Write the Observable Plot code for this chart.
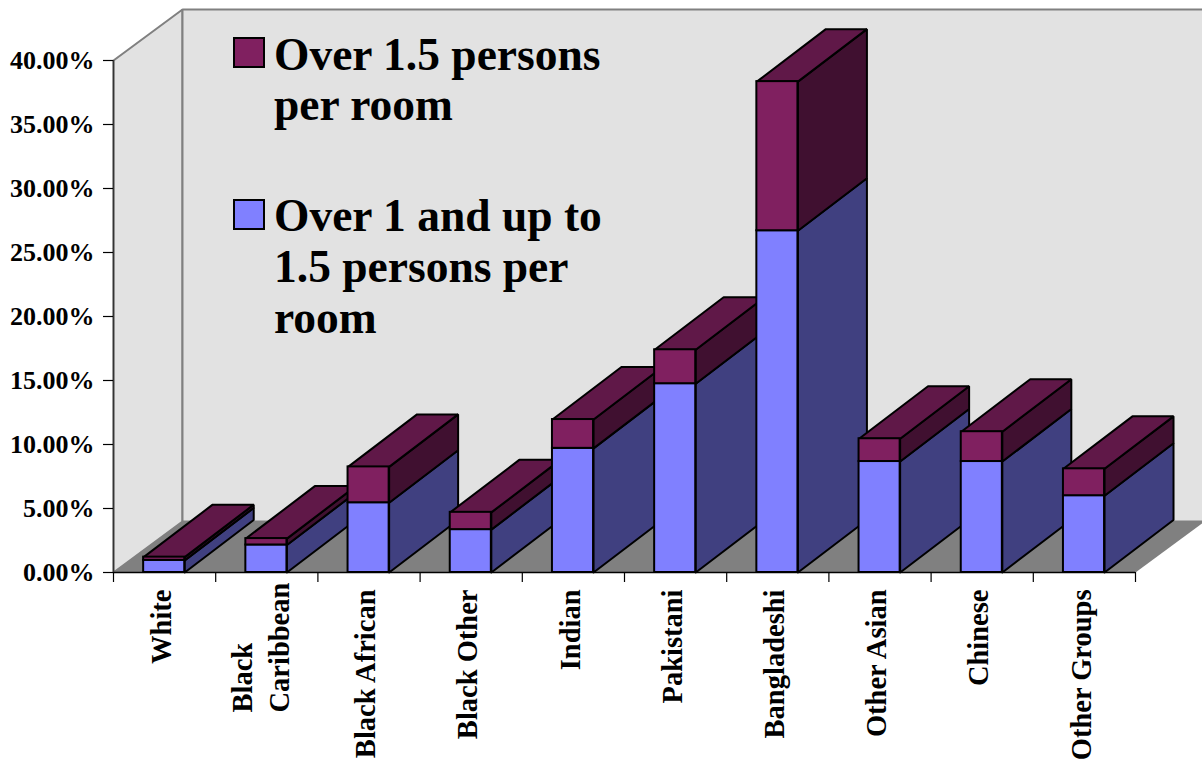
<!DOCTYPE html>
<html><head><meta charset="utf-8">
<script src="https://cdn.jsdelivr.net/npm/d3@7"></script>
<script src="https://cdn.jsdelivr.net/npm/@observablehq/plot@0.6"></script>
<style>
html,body{margin:0;padding:0;background:#fff;}
#wrap{position:relative;width:1202px;height:760px;overflow:hidden;}
#wrap svg{display:block;}
.lg{position:absolute;left:274px;font:bold 45.5px/1 "Liberation Serif",serif;color:#000;white-space:nowrap;}
.sw{position:absolute;left:233px;width:28px;height:27px;border:2px solid #000;}
</style></head><body><div id="wrap"></div>
<script>
const categories = ["White","Black\nCaribbean","Black African","Black Other","Indian","Pakistani","Bangladeshi","Other Asian","Chinese","Other Groups"];
const over1to15 = [0.95,2.15,5.45,3.35,9.7,14.75,26.7,8.67,8.67,6.0];
const over15 = [0.25,0.5,2.8,1.35,2.25,2.65,11.65,1.78,2.33,2.1];
const yTicks = [0,5,10,15,20,25,30,35,40];
const xTicks = [0,1,2,3,4,5,6,7,8,9,10];
const depthX = 0.675, depthY = 4.1, wallY = 3.98, yMax = 40, nCat = categories.length;
const barL = 0.295, barR = 0.697;
const colors = {blue:"#8080ff",blueSide:"#404080",purple:"#802060",purpleSide:"#401030",purpleTop:"#601848",floor:"#808080",wall:"#e2e2e2",wallLine:"#808080"};

const poly = (id, fill, pts) => pts.concat([pts[0]]).map(([x,y]) => ({id, fill, x, y}));
const walls = [
  ...poly("floor", colors.floor, [[0,0],[nCat,0],[nCat+depthX,wallY],[depthX,wallY]]),
  ...poly("left", colors.wall, [[0,0],[0,yMax],[depthX,yMax+wallY],[depthX,wallY]]),
  ...poly("back", colors.wall, [[depthX,wallY],[depthX,yMax+wallY],[nCat+depthX,yMax+wallY],[nCat+depthX,wallY]])
];
const fronts = [], sides = [];
categories.forEach((c,i) => {
  const l = i+barL, r = i+barR, a = over1to15[i], t = a+over15[i];
  const k = depthX, h = depthY;
  sides.push(...poly(i+"bs", colors.blueSide, [[r,0],[r,a],[r+k,a+h],[r+k,h]]));
  sides.push(...poly(i+"ps", colors.purpleSide, [[r,a],[r,t],[r+k,t+h],[r+k,a+h]]));
  sides.push(...poly(i+"pt", colors.purpleTop, [[l,t],[r,t],[r+k,t+h],[l+k,t+h]]));
  fronts.push({x1:l,x2:r,y1:0,y2:a,fill:colors.blue});
  fronts.push({x1:l,x2:r,y1:a,y2:t,fill:colors.purple});
});
const labelsEnd = categories.map((c,i)=>({c,x:i+0.5})).filter(d=>!d.c.includes("\n"));
const labelsStart = categories.map((c,i)=>({c,x:i+0.5})).filter(d=>d.c.includes("\n"));
const FS = 26, XFS = 28.5;
const plot = Plot.plot({
  width:1202,height:760,marginLeft:113,marginRight:67,marginTop:60,marginBottom:188,
  x:{type:"linear",domain:[0,nCat]},
  y:{type:"linear",domain:[0,yMax]},
  color:{type:"identity"},
  style:{fontFamily:'"Liberation Serif",serif',fontWeight:"bold",background:"#fff",color:"#000"},
  marks:[
    Plot.line(walls,{x:"x",y:"y",z:"id",fill:"fill",stroke:d=>d.id==="floor"?"none":colors.wallLine,strokeWidth:2,strokeLinejoin:"miter"}),
    Plot.ruleY([0],{x1:0,x2:nCat,stroke:"#000",strokeWidth:1.5}),
    Plot.ruleX([0],{y1:0,y2:yMax,stroke:"#333",strokeWidth:1.5}),
    Plot.axisY(yTicks,{anchor:"left",label:null,tickSize:10,tickPadding:9,fontSize:FS,stroke:"#000",strokeWidth:1.2,tickFormat:d=>d.toFixed(2)+"%"}),
    Plot.axisX(xTicks,{anchor:"bottom",label:null,tickSize:10,fill:"none",stroke:"#000",strokeWidth:1.2}),
    Plot.line(sides,{x:"x",y:"y",z:"id",fill:"fill",stroke:"#000",strokeWidth:2,strokeLinejoin:"miter"}),
    Plot.rect(fronts,{x1:"x1",x2:"x2",y1:"y1",y2:"y2",fill:"fill",stroke:"#000",strokeWidth:2}),
    Plot.text(labelsEnd,{x:"x",y:()=>0,text:"c",rotate:-90,textAnchor:"end",dx:-3,dy:17,fontSize:XFS,fill:"#000"}),
    Plot.text(labelsStart,{x:"x",y:()=>0,text:"c",rotate:-90,textAnchor:"start",dx:-8,dy:140,lineHeight:1.3,fontSize:XFS,fill:"#000"})
  ]
});
const wrap=document.getElementById("wrap");
wrap.appendChild(plot);
const legend=[[colors.purple,37,[["Over 1.5 persons",32],["per room",82]]],[colors.blue,199,[["Over 1 and up to",193],["1.5 persons per",244],["room",295]]]];
legend.forEach(([col,y,lines])=>{
  const s=document.createElement("div");s.className="sw";s.style.top=y+"px";s.style.background=col;wrap.appendChild(s);
  lines.forEach(([t,ty])=>{const e=document.createElement("div");e.className="lg";e.style.top=ty+"px";e.textContent=t;wrap.appendChild(e);});
});
</script></body></html>
